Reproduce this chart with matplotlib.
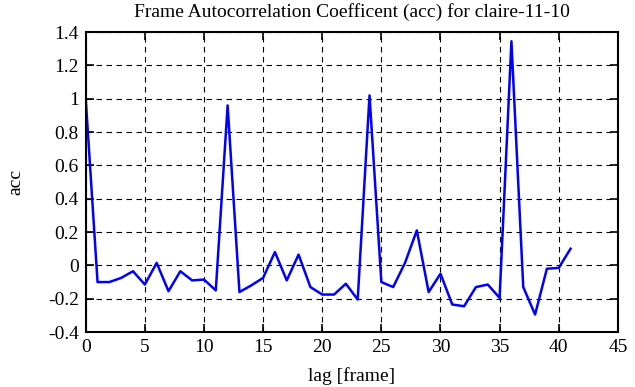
import numpy as np
import matplotlib
matplotlib.use('Agg')
import matplotlib.pyplot as plt
from matplotlib.ticker import FuncFormatter

lag = list(range(42))
acc = [1.0, -0.1, -0.1, -0.075, -0.035, -0.115, 0.015, -0.155, -0.035, -0.09,
       -0.085, -0.15, 0.96, -0.16, -0.12, -0.075, 0.08, -0.09, 0.065, -0.13,
       -0.175, -0.175, -0.11, -0.205, 1.02, -0.1, -0.13, 0.015, 0.21, -0.16,
       -0.05, -0.235, -0.245, -0.13, -0.115, -0.195, 1.345, -0.13, -0.295, -0.02,
       -0.015, 0.1]

plt.rcParams['font.family'] = ['Liberation Serif', 'DejaVu Serif']
plt.rcParams['font.size'] = 14

fig = plt.figure(figsize=(6.35, 3.87), dpi=100)
ax = fig.add_axes([0.135, 0.142, 0.838, 0.775])
ax.plot(lag, acc, color='#0000ff', linewidth=1.8)
ax.set_xlim(0, 45)
ax.set_ylim(-0.4, 1.4)
ax.set_xticks(np.arange(0, 46, 5))
ax.set_yticks(np.arange(-0.4, 1.41, 0.2))
fmt = FuncFormatter(lambda v, p: '%g' % round(v, 2))
ax.xaxis.set_major_formatter(fmt)
ax.yaxis.set_major_formatter(fmt)
ax.tick_params(direction='in', top=True, right=True, length=6, width=1.2, pad=5)
ax.grid(True, color='black', linestyle=(0, (5, 4)), linewidth=0.8)
for s in ax.spines.values():
    s.set_linewidth(1.5)
ax.set_xlabel('lag [frame]', labelpad=8)
ax.set_ylabel('acc', labelpad=17)
ax.set_title('Frame Autocorrelation Coefficent (acc) for claire-11-10', fontsize=14, pad=11)
fig.savefig('out.png', dpi=100)
